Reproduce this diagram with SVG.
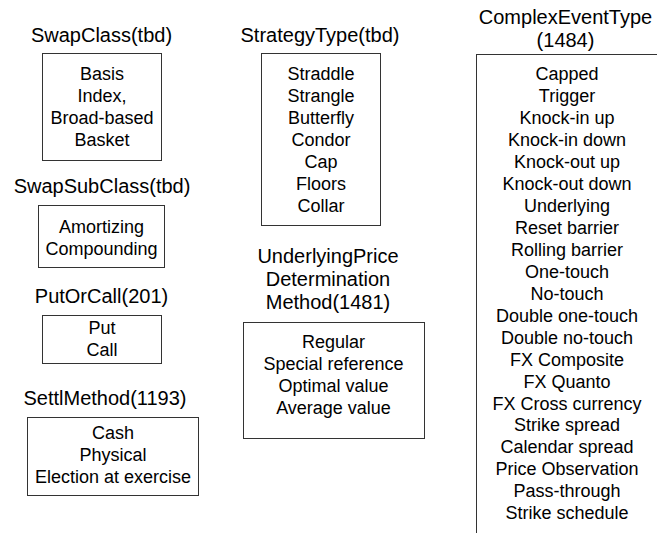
<svg xmlns="http://www.w3.org/2000/svg" width="657" height="533" viewBox="0 0 657 533">
  <style>
    .box { fill: #ffffff; stroke: #333333; stroke-width: 1; }
    .title { font-family: "Liberation Sans", Arial, sans-serif; font-size: 20px; fill: #000000; text-anchor: middle; }
    .item { font-family: "Liberation Sans", Arial, sans-serif; font-size: 18px; fill: #000000; text-anchor: middle; }
  </style>
  <rect x="0" y="0" width="657" height="533" fill="#ffffff"/>

  <!-- SwapClass -->
  <g id="swapclass">
    <text class="title" x="101.5" y="42">SwapClass(tbd)</text>
    <rect class="box" x="42.5" y="53.5" width="119" height="107"/>
    <text class="item" x="102" y="80">Basis</text>
    <text class="item" x="102" y="102">Index,</text>
    <text class="item" x="102" y="124">Broad-based</text>
    <text class="item" x="102" y="146">Basket</text>
  </g>

  <!-- SwapSubClass -->
  <g id="swapsubclass">
    <text class="title" x="102" y="193">SwapSubClass(tbd)</text>
    <rect class="box" x="38.5" y="205.5" width="126" height="62"/>
    <text class="item" x="101.5" y="233">Amortizing</text>
    <text class="item" x="101.5" y="255">Compounding</text>
  </g>

  <!-- PutOrCall -->
  <g id="putorcall">
    <text class="title" x="101.5" y="303">PutOrCall(201)</text>
    <rect class="box" x="42.5" y="315.5" width="119" height="48"/>
    <text class="item" x="102" y="334">Put</text>
    <text class="item" x="102" y="356">Call</text>
  </g>

  <!-- SettlMethod -->
  <g id="settlmethod">
    <text class="title" x="105" y="405">SettlMethod(1193)</text>
    <rect class="box" x="27.5" y="417.5" width="171" height="78"/>
    <text class="item" x="113" y="439">Cash</text>
    <text class="item" x="113" y="461">Physical</text>
    <text class="item" x="113" y="483">Election at exercise</text>
  </g>

  <!-- StrategyType -->
  <g id="strategytype">
    <text class="title" x="320" y="42">StrategyType(tbd)</text>
    <rect class="box" x="261.5" y="53.5" width="119" height="172"/>
    <text class="item" x="321" y="80">Straddle</text>
    <text class="item" x="321" y="102">Strangle</text>
    <text class="item" x="321" y="124">Butterfly</text>
    <text class="item" x="321" y="146">Condor</text>
    <text class="item" x="321" y="168">Cap</text>
    <text class="item" x="321" y="190">Floors</text>
    <text class="item" x="321" y="212">Collar</text>
  </g>

  <!-- UnderlyingPriceDeterminationMethod -->
  <g id="underlyingpricedeterminationmethod">
    <text class="title" x="328" y="263">UnderlyingPrice</text>
    <text class="title" x="328" y="286">Determination</text>
    <text class="title" x="328" y="309">Method(1481)</text>
    <rect class="box" x="243.5" y="322.5" width="181" height="116"/>
    <text class="item" x="333.5" y="348">Regular</text>
    <text class="item" x="333.5" y="370">Special reference</text>
    <text class="item" x="333.5" y="392">Optimal value</text>
    <text class="item" x="333.5" y="414">Average value</text>
  </g>

  <!-- ComplexEventType (box runs past the right and bottom edges) -->
  <g id="complexeventtype">
    <text class="title" x="565.5" y="24">ComplexEventType</text>
    <text class="title" x="565.5" y="47">(1484)</text>
    <rect class="box" x="476.5" y="54.5" width="200" height="500"/>
    <text class="item" x="567" y="80">Capped</text>
    <text class="item" x="567" y="102">Trigger</text>
    <text class="item" x="567" y="124">Knock-in up</text>
    <text class="item" x="567" y="146">Knock-in down</text>
    <text class="item" x="567" y="168">Knock-out up</text>
    <text class="item" x="567" y="190">Knock-out down</text>
    <text class="item" x="567" y="212">Underlying</text>
    <text class="item" x="567" y="234">Reset barrier</text>
    <text class="item" x="567" y="256">Rolling barrier</text>
    <text class="item" x="567" y="278">One-touch</text>
    <text class="item" x="567" y="300">No-touch</text>
    <text class="item" x="567" y="322">Double one-touch</text>
    <text class="item" x="567" y="344">Double no-touch</text>
    <text class="item" x="567" y="366">FX Composite</text>
    <text class="item" x="567" y="388">FX Quanto</text>
    <text class="item" x="567" y="410">FX Cross currency</text>
    <text class="item" x="567" y="431">Strike spread</text>
    <text class="item" x="567" y="453">Calendar spread</text>
    <text class="item" x="567" y="475">Price Observation</text>
    <text class="item" x="567" y="497">Pass-through</text>
    <text class="item" x="567" y="519">Strike schedule</text>
  </g>

  <g id="connectors"/>
</svg>
